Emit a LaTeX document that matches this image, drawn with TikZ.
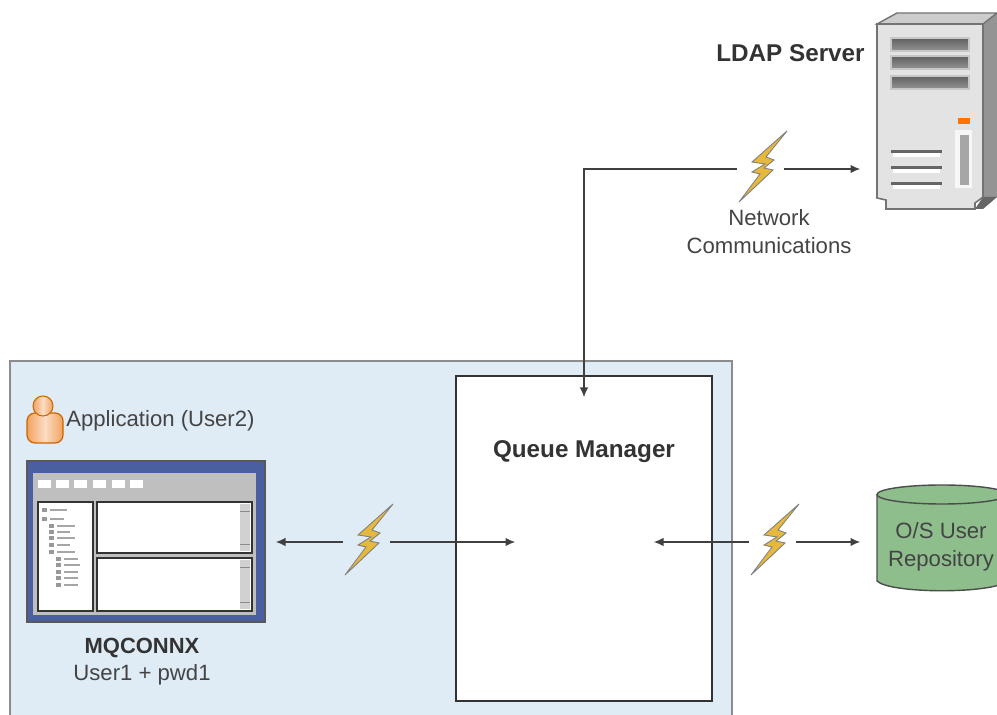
\documentclass[tikz,border=0pt]{standalone}
\usepackage{fontspec}
\setmainfont{Liberation Sans}
\usetikzlibrary{arrows.meta}
\definecolor{boxblue}{HTML}{DFEBF5}
\definecolor{winblue}{HTML}{4A5FA0}
\definecolor{repogreen}{HTML}{8DBE8B}
\definecolor{inkgray}{HTML}{444444}
\definecolor{boltgold}{HTML}{E6B83C}
\definecolor{manorange}{HTML}{F2A25E}
\definecolor{manlight}{HTML}{FBDCC4}
\tikzset{
	label text/.style={text=inkgray, align=center, inner sep=0pt, font=\fontsize{12.6}{15.9}\selectfont},
	bold text/.style={text=black!80, align=center, inner sep=0pt, font=\fontsize{13.8}{16}\selectfont\bfseries},
	link/.style={-{Latex[length=1.9mm,width=1.7mm]}, draw=black!75, line width=0.6pt},
	vent/.style={top color=black!62, bottom color=black!42, draw=black!22, line width=0.6pt},
	slit/.style={fill=white, draw=none},
	pane/.style={fill=white, draw=black!80, line width=1.4pt},
	bolt/.pic={
		\node[minimum width=0.94cm, minimum height=0.5cm, inner sep=0pt, outer sep=0pt] (-gap) at (0,0) {};
		\draw[fill=boltgold, draw=black!50, line width=0.5pt, xshift=0.05cm]
			(24,-36) -- (-11,-5) -- (2,-3) -- (-11,5) -- (-3,7) -- (-24,35) -- (10,3) -- (1,1) -- (11,-7) -- (3,-10) -- cycle;
	}
}
\begin{document}
\begin{tikzpicture}[x=0.02cm, y=-0.02cm]
	\useasboundingbox (0,0) rectangle (997,715);
	\fill[white] (0,0) rectangle (997,715);
	\draw[fill=boxblue, draw=black!45, line width=0.9pt] (10,361) rectangle (732,725);
	\node[draw=black!80, fill=white, line width=0.7pt, minimum width=5.12cm, minimum height=6.5cm, inner sep=0pt] (qmgr) at (584,538.5) {};
	\node[bold text] (qmgrlabel) at (584,452) {Queue Manager};
	\coordinate (qmgrtop) at (584,397);
	\coordinate (qmgrleft) at (515,542);
	\coordinate (qmgrright) at (654,542);
	% server
	\fill[black!42] (983,24) -- (997,13) -- (997,197) -- (983,208) -- cycle;
	\fill[black!60] (975,209) -- (983,197) -- (997,197) -- (983,209) -- cycle;
	\draw[fill=black!20, draw=black!55, line width=0.8pt] (877,24) -- (897,13) -- (997,13) -- (983,24) -- cycle;
	\draw[fill=black!11, draw=black!55, line width=0.9pt] (877,24) -- (983,24) -- (983,197) -- (975,203) -- (975,209) -- (886,209) -- (886,200) -- (877,198) -- cycle;
	\foreach \y in {38,56,76} {
		\draw[vent] (891,\y) rectangle (969,\y+13);
	}
	\foreach \y in {150,166,182} {
		\fill[black!60] (891,\y) rectangle (942,\y+3);
		\draw[slit] (893,\y+3) rectangle (940,\y+7);
	}
	\fill[black!3] (955,130) rectangle (972,188);
	\fill[black!35] (960,135) rectangle (969,185);
	\fill[orange!90!red] (958,118) rectangle (970,124);
	\coordinate (server) at (860,169);
	\node[bold text, anchor=east] (serverlabel) at (865,53) {LDAP Server};
	% repository
	\draw[fill=repogreen, draw=black!70, line width=0.8pt] (877,494.5) -- (877,581) .. controls (890,594) and (994,594) .. (1007,581) -- (1007,494.5);
	\draw[fill=repogreen, draw=black!70, line width=0.8pt] (942,494.5) ellipse[x radius=65, y radius=9.5];
	\node[label text] (repo) at (941,547) {O/S User\\Repository};
	\coordinate (repoleft) at (860,542);
	% user
	\draw[left color=manorange, right color=manorange, middle color=manlight, draw=orange!80!black, line width=0.7pt, rounded corners=0.16cm] (27,443) -- (27,413) -- (63,413) -- (63,443) -- cycle;
	\draw[left color=manorange, right color=manorange, middle color=manlight, draw=orange!80!black, line width=0.6pt] (43,406) circle[radius=10];
	\node[label text, anchor=west] (applabel) at (66,421) {Application (User2)};
	% window
	\draw[fill=winblue, draw=black!65, line width=1.2pt] (27,461) rectangle (265,622);
	\fill[black!25] (33,473) rectangle (256,615);
	\foreach \x in {38,56,74,93,112,130} {
		\fill[white] (\x,480) rectangle (\x+13,488);
	}
	\draw[pane] (38,502) rectangle (93,611);
	\draw[pane] (97,502) rectangle (252,553);
	\draw[pane] (97,558) rectangle (252,611);
	\foreach \top/\bot in {504/551,560/609} {
		\fill[black!18] (240,\top) rectangle (250,\bot);
		\draw[black!45, line width=0.4pt] (240,\top+7) -- (250,\top+7);
		\draw[black!45, line width=0.4pt] (240,\bot-7) -- (250,\bot-7);
	}
	\foreach \x/\y/\l in {44/510/17,44/519/14,51/526/18,51/532/13,51/538/18,51/545/13,51/552/18,58/559/14,58/565/16,58/572/14,58/578/14,58/585/14} {
		\fill[black!40] (\x-2,\y-2) rectangle (\x+3,\y+2);
		\draw[black!35, line width=0.6pt] (\x+6,\y) -- (\x+6+\l,\y);
	}
	\coordinate (window) at (276,542);
	\node[bold text, font=\fontsize{12.5}{16}\selectfont\bfseries] (mqconnx) at (142,648) {MQCONNX};
	\node[label text] (userpwd) at (142,675) {User1 + pwd1};
	% bolts
	\pic (netbolt) at (760.5,167) {bolt};
	\pic (appbolt) at (366.5,540) {bolt};
	\pic (repobolt) at (772.5,540) {bolt};
	\node[label text] (netlabel) at (769,232) {Network\\Communications};
	\draw[link] (netbolt-gap.west |- 0,169) -- (584,169) -- (qmgrtop);
	\draw[link] (netbolt-gap.east |- 0,169) -- (server);
	\draw[link] (appbolt-gap.west |- 0,542) -- (window);
	\draw[link] (appbolt-gap.east |- 0,542) -- (qmgrleft);
	\draw[link] (repobolt-gap.west |- 0,542) -- (qmgrright);
	\draw[link] (repobolt-gap.east |- 0,542) -- (repoleft);
\end{tikzpicture}
\end{document}
